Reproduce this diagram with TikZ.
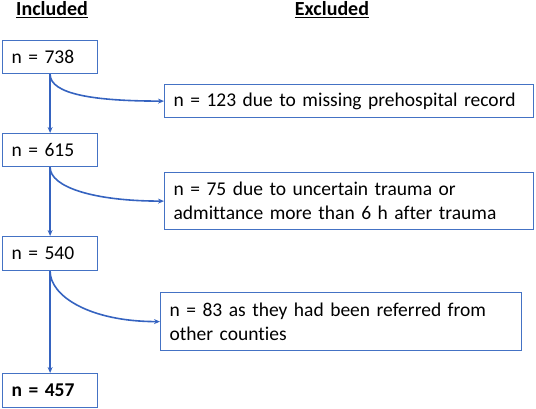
\documentclass[tikz,border=0pt]{standalone}
\usepackage{fontspec}
\setmainfont{Carlito}[Ligatures=NoCommon]
\usetikzlibrary{arrows.meta, positioning}

\definecolor{boxblue}{HTML}{4472C4}
\definecolor{arrowblue}{HTML}{3563C0}

\begin{document}
\begin{tikzpicture}[x=1pt, y=-1pt,
    box/.style={draw=boxblue, line width=1.2pt, anchor=north west,
      inner xsep=9pt, inner ysep=0pt, align=left,
      font=\fontsize{19.5}{24}\selectfont},
    flow/.style={draw=arrowblue, line width=1.6pt,
      -{Stealth[length=6pt, width=5pt]}}]

  \useasboundingbox (0,0) rectangle (536,409);

  % column titles
  \node (incl) at (52,10)  {\fontsize{20}{22}\selectfont\underline{\textbf{Included}}};
  \node (excl) at (332,10) {\fontsize{20}{22}\selectfont\underline{\textbf{Excluded}}};

  % included boxes
  \node[box, text width=77pt, minimum height=33pt] (n738) at (2,40)  {n = 738};
  \node[box, text width=77pt, minimum height=33pt] (n615) at (2,133) {n = 615};
  \node[box, text width=77pt, minimum height=34pt] (n540) at (2,236) {n = 540};
  \node[box, text width=77pt, minimum height=34pt] (n457) at (2,373) {\textbf{n = 457}};

  % excluded boxes
  \node[box, text width=351pt, minimum height=33pt] (x123) at (164,84)
    {n = 123 due to missing prehospital record};
  \node[box, text width=351pt, minimum height=57pt] (x75) at (164,172)
    {n = 75 due to uncertain trauma or\\admittance more than 6 h after trauma};
  \node[box, text width=343pt, minimum height=58pt] (x83) at (160,292)
    {n = 83 as they had been referred from\\other counties};

  % main flow
  \draw[flow] (n738) -- (n615);
  \draw[flow] (n615) -- (n540);
  \draw[flow] (n540) -- (n457);

  % exclusions
  \draw[flow] (n738.south) .. controls +(0,20) and +(-70,0) .. (x123.west);
  \draw[flow] (n615.south) .. controls +(0,20) and +(-70,0) .. (x75.west);
  \draw[flow] (n540.south) .. controls +(0,25) and +(-70,0) .. (x83.west);

\end{tikzpicture}
\end{document}
